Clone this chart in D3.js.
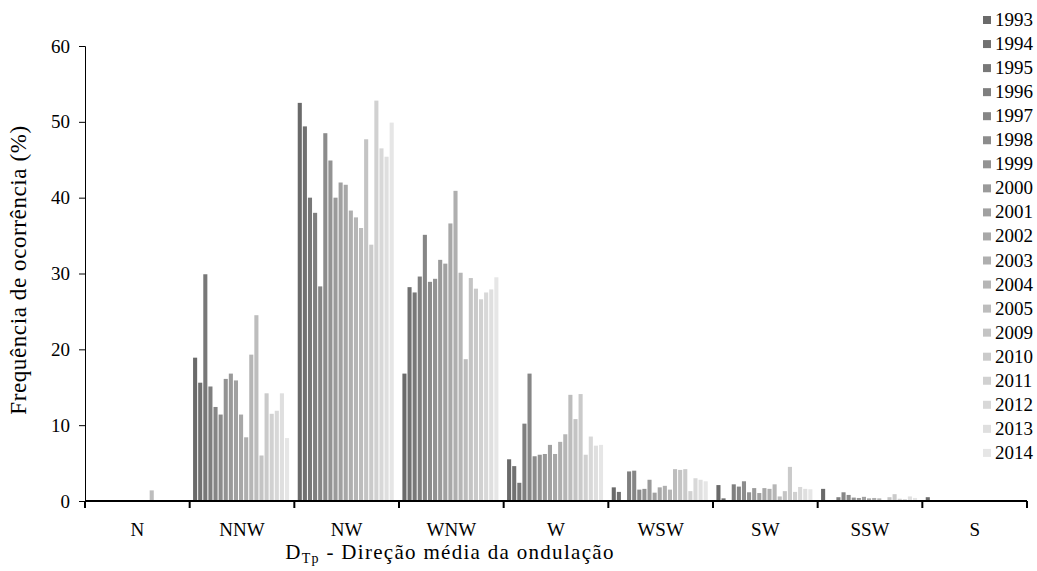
<!DOCTYPE html>
<html>
<head>
<meta charset="utf-8">
<script src="https://cdn.jsdelivr.net/npm/d3@7"></script>
<style>
  body { margin: 0; background: #fff; }
  svg text { font-family: "Liberation Serif", "Times New Roman", Tinos, serif; }
</style>
</head>
<body>
<div id="chart"></div>
<script>
var w = 1037
var h = 571
var fontFam = "'Liberation Serif', 'Times New Roman', Tinos, serif"

// direction categories and years
var directions = ["N", "NNW", "NW", "WNW", "W", "WSW", "SW", "SSW", "S"]
var years = ["1993","1994","1995","1996","1997","1998","1999","2000","2001","2002","2003","2004","2005","2009","2010","2011","2012","2013","2014"]
var yTicks = [0, 10, 20, 30, 40, 50, 60]

// frequency (%) per direction, one value per year (same order as years)
var valN   = [0,0,0,0,0,0,0,0,0,0,0,0,1.4,0,0,0,0,0,0]
var valNNW = [18.9,15.6,29.9,15.1,12.4,11.4,16.1,16.8,15.9,11.4,8.4,19.3,24.5,6.0,14.2,11.5,11.9,14.2,8.3]
var valNW  = [52.5,49.4,40.0,38.0,28.3,48.5,44.9,40.0,42.0,41.7,38.3,37.4,36.0,47.7,33.8,52.8,46.5,45.4,49.9]
var valWNW = [16.8,28.2,27.5,29.6,35.1,28.9,29.3,31.8,31.3,36.6,40.9,30.1,18.7,29.4,28.0,26.6,27.5,27.9,29.5]
var valW   = [5.5,4.6,2.4,10.2,16.8,5.9,6.1,6.2,7.4,6.2,7.8,8.8,14.0,10.8,14.1,6.1,8.5,7.3,7.4]
var valWSW = [1.8,1.2,0,3.9,4.0,1.5,1.6,2.8,1.1,1.8,2.0,1.5,4.2,4.1,4.2,1.3,3.0,2.8,2.6]
var valSW  = [2.1,0.35,0,2.2,1.9,2.6,1.15,1.7,1.05,1.7,1.6,2.2,0.6,1.3,4.5,1.2,1.85,1.6,1.55]
var valSSW = [1.6,0,0,0.5,1.15,0.8,0.45,0.4,0.55,0.35,0.4,0.35,0,0.5,0.9,0.3,0.25,0.6,0.4]
var valS   = [0.5,0,0,0,0,0,0.1,0,0,0,0.1,0,0,0,0,0,0,0,0]

var series = [valN, valNNW, valNW, valWNW, valW, valWSW, valSW, valSSW, valS]

var plotLeft = 85, plotRight = 1027, plotBase = 501, plotTop = 46

var svg = d3.select("#chart").append("svg").attr("width", w).attr("height", h)
    .attr("font-family", fontFam)

var x0 = d3.scaleBand().domain(directions).range([plotLeft, plotRight]).padding(0)
var x1 = d3.scaleBand().domain(years).range([3.4, 99.4]).paddingInner(0.2).paddingOuter(0)
var y = d3.scaleLinear().domain([0, 60]).range([plotBase, plotTop])

var color = d3.scaleLinear().domain([0, years.length - 1])
    .range(["#6a6a6a", "#e6e6e6"])
    .interpolate(d3.interpolateRgb)

// bars
var groups = svg.selectAll("g.dir")
    .data(directions)
    .enter()
    .append("g")
    .attr("class", "dir")
    .attr("transform", function(d) { return "translate(" + x0(d) + ",0)" })

groups.selectAll("rect")
    .data(function(d, i) {
        return series[i].map(function(v, j) { return {year: years[j], value: v, idx: j} })
    })
    .enter()
    .append("rect")
    .attr("x", function(d) { return x1(d.year) })
    .attr("width", x1.bandwidth())
    .attr("y", function(d) { return y(d.value) })
    .attr("height", function(d) { return y(0) - y(d.value) })
    .attr("fill", function(d) { return color(d.idx) })

// y axis
var yAxis = svg.append("g")
    .attr("transform", "translate(" + plotLeft + ",0)")
    .call(d3.axisLeft(y).tickValues(yTicks).tickSize(6).tickPadding(9))
yAxis.attr("font-family", fontFam).attr("font-size", 19)
yAxis.selectAll("text").attr("fill", "#000")
yAxis.selectAll("line, path").attr("stroke", "#000")

// x axis: ticks on category boundaries
svg.append("line")
    .attr("x1", plotLeft).attr("x2", plotRight)
    .attr("y1", y(0)).attr("y2", y(0))
    .attr("stroke", "#000").attr("stroke-width", 2)

var bounds = directions.map(function(d) { return x0(d) }).concat([plotRight])
svg.selectAll("line.xtick")
    .data(bounds)
    .enter()
    .append("line")
    .attr("class", "xtick")
    .attr("x1", function(d) { return d }).attr("x2", function(d) { return d })
    .attr("y1", y(0)).attr("y2", y(0) + 7)
    .attr("stroke", "#000").attr("stroke-width", 2)

svg.selectAll("text.xlab")
    .data(directions)
    .enter()
    .append("text")
    .attr("class", "xlab")
    .attr("x", function(d) { return x0(d) + x0.bandwidth() / 2 })
    .attr("y", 536)
    .attr("text-anchor", "middle")
    .attr("font-size", 19)
    .text(function(d) { return d })

// axis titles
var xt = svg.append("text")
    .attr("x", 450)
    .attr("y", 559)
    .attr("text-anchor", "middle")
    .attr("font-size", 21)
    .attr("letter-spacing", 1.3)
xt.append("tspan").text("D")
xt.append("tspan").attr("font-size", 14).attr("dy", 4).text("Tp")
xt.append("tspan").attr("dy", -4).text(" - Direção média da ondulação")

svg.append("text")
    .attr("transform", "translate(26,270) rotate(-90)")
    .attr("text-anchor", "middle")
    .attr("font-size", 23)
    .attr("letter-spacing", 0.6)
    .text("Frequência de ocorrência (%)")

// legend
var legend = svg.selectAll("g.leg")
    .data(years)
    .enter()
    .append("g")
    .attr("class", "leg")
    .attr("transform", function(d, i) { return "translate(983," + (20 + i * 24.05) + ")" })

legend.append("rect")
    .attr("x", 0).attr("y", -4)
    .attr("width", 8).attr("height", 8)
    .attr("fill", function(d, i) { return color(i) })

legend.append("text")
    .attr("x", 12).attr("y", 6)
    .attr("font-size", 19)
    .text(function(d) { return d })
</script>
</body>
</html>
